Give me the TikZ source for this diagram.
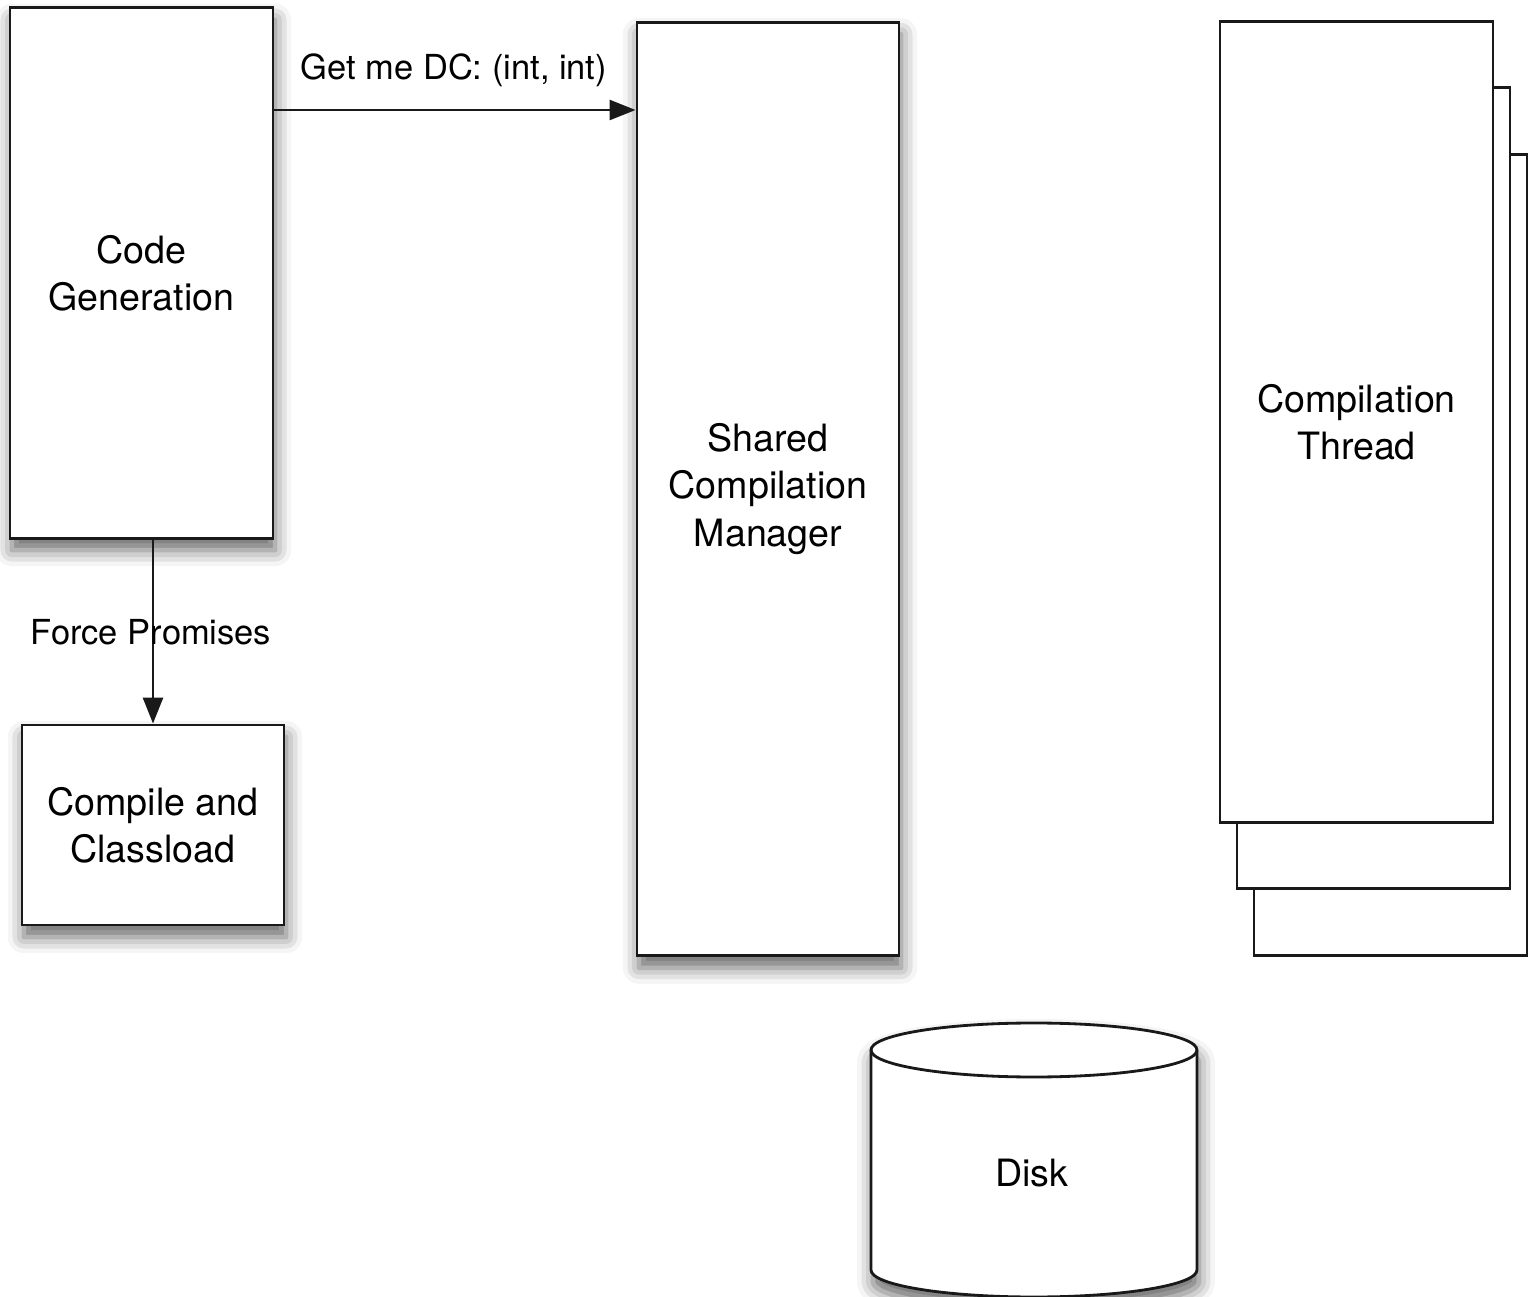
\documentclass[tikz,border=0pt]{standalone}
\usepackage{fontspec}
\setmainfont{TeX Gyre Heros}
\usetikzlibrary{arrows.meta,shadows.blur}

\begin{document}
\begin{tikzpicture}[x=0.01cm,y=-0.01cm,
  line width=0.8pt,
  soft/.style={blur shadow={shadow xshift=0.02cm, shadow yshift=-0.12cm,
      shadow blur radius=0.16cm, shadow opacity=60}},
  box/.style={draw=black!90, fill=white, rectangle, inner sep=0pt,
      align=center, font=\fontsize{10.7pt}{13.4pt}\selectfont},
  lbl/.style={inner sep=0pt, font=\fontsize{9.8pt}{12pt}\selectfont},
  arr/.style={draw=black!90, -{Triangle[length=0.26cm, width=0.2cm]}}]

\useasboundingbox (0,0) rectangle (1532,1297);

% left column
\node[box, soft, minimum width=2.63cm, minimum height=5.30cm] (cg) at (141.5,273)
  {Code\\Generation};
\node[box, soft, minimum width=2.62cm, minimum height=2.00cm] (cc) at (153,825)
  {Compile and\\Classload};

% manager
\node[box, soft, minimum width=2.62cm, minimum height=9.33cm] (scm) at (768,489)
  {Shared\\Compilation\\Manager};

% stack of compilation threads
\node[box, minimum width=2.73cm, minimum height=8.00cm] (ct3) at (1390.5,555) {};
\node[box, minimum width=2.73cm, minimum height=8.00cm] (ct2) at (1373.5,488) {};
\node[box, minimum width=2.73cm, minimum height=8.00cm] (ct1) at (1356.5,422)
  {Compilation\\Thread};

% disk
\path[draw=black!90, fill=white, soft]
  (871,1050) -- (871,1270) arc[start angle=180, end angle=0, x radius=163, y radius=27]
  -- (1197,1050) arc[start angle=0, end angle=-180, x radius=163, y radius=27] -- cycle;
\draw[black!90] (871,1050) arc[start angle=180, end angle=0, x radius=163, y radius=27];
\node[lbl, font=\fontsize{10.7pt}{13.4pt}\selectfont] (disk) at (1032,1173) {Disk};

% connectors
\draw[arr] (cg.east |- 0,110) -- (scm.west |- 0,110);
\node[lbl] (getdc) at (454,70) {Get me DC: (int, int)};

\draw[arr] (cg.south -| cc.north) -- (cc.north);
\node[lbl] (force) at (151,632) {Force Promises};

\end{tikzpicture}
\end{document}
